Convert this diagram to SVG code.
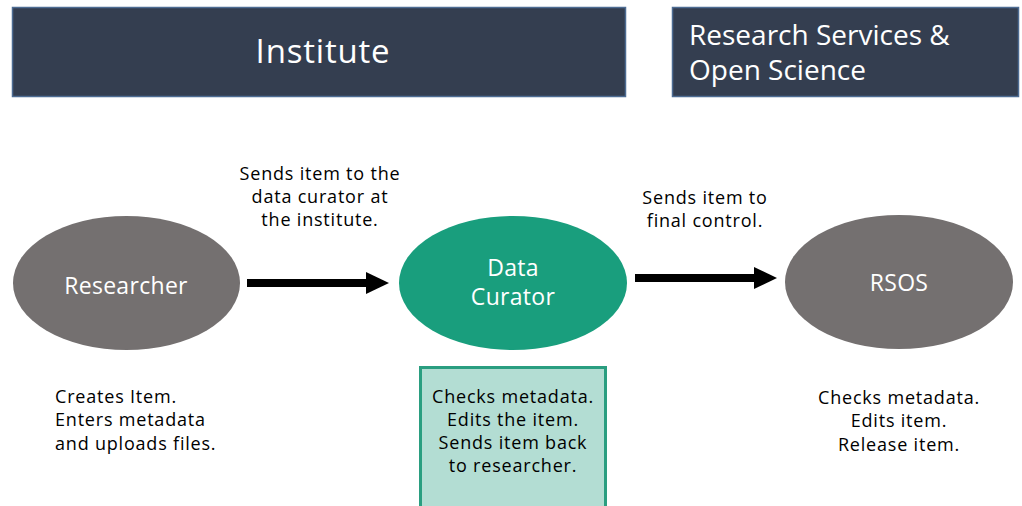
<svg xmlns="http://www.w3.org/2000/svg" width="1022" height="506" viewBox="0 0 1022 506">
  <style>
    text { font-family: "Open Sans", "Noto Sans", "DejaVu Sans", sans-serif; }
    .hdr { fill: #343e50; stroke: #4d6c93; stroke-width: 1.5; }
    .hdr-t { fill: #ffffff; }
    .node-grey { fill: #747070; }
    .node-green { fill: #199e7d; }
    .node-t { fill: #ffffff; font-size: 23px; text-anchor: middle; letter-spacing: 0.3px; }
    .lbl { fill: #000000; font-size: 18px; text-anchor: middle; letter-spacing: 0.8px; }
    .note { fill: #000000; font-size: 18px; letter-spacing: 0.8px; }
    .conn { stroke: #000000; stroke-width: 8; fill: none; }
    .head { fill: #000000; }
  </style>

  <!-- header bands -->
  <g id="institute">
    <rect class="hdr" x="12.5" y="7.5" width="613" height="89"/>
    <text class="hdr-t" x="323" y="63" font-size="33" letter-spacing="0.8" text-anchor="middle">Institute</text>
  </g>
  <g id="rsos-header">
    <rect class="hdr" x="672.5" y="7.5" width="346" height="89"/>
    <text class="hdr-t" x="689" y="45" font-size="28">Research Services &amp;</text>
    <text class="hdr-t" x="689" y="80" font-size="28">Open Science</text>
  </g>

  <!-- actors -->
  <g id="researcher">
    <ellipse class="node-grey" cx="126.5" cy="283" rx="113.5" ry="67"/>
    <text class="node-t" x="126" y="294">Researcher</text>
  </g>
  <g id="data-curator">
    <ellipse class="node-green" cx="513" cy="283" rx="114" ry="67"/>
    <text class="node-t" x="513" y="276">Data</text>
    <text class="node-t" x="513" y="305">Curator</text>
  </g>
  <g id="rsos">
    <ellipse class="node-grey" cx="899" cy="282" rx="114" ry="67"/>
    <text class="node-t" x="899" y="291">RSOS</text>
  </g>

  <!-- connectors -->
  <g id="connectors">
    <line class="conn" x1="247" y1="283" x2="368" y2="283"/>
    <polygon class="head" points="366,272 389,283 366,294"/>
    <line class="conn" x1="635" y1="278" x2="756" y2="278"/>
    <polygon class="head" points="754,267 777,278 754,289"/>
  </g>

  <!-- connector labels -->
  <g id="edge-labels">
    <text class="lbl" x="320" y="180">Sends item to the</text>
    <text class="lbl" x="320" y="203">data curator at</text>
    <text class="lbl" x="320" y="226">the institute.</text>
    <text class="lbl" x="705" y="204">Sends item to</text>
    <text class="lbl" x="705" y="227">final control.</text>
  </g>

  <!-- task notes -->
  <g id="researcher-tasks">
    <text class="note" x="55" y="403">Creates Item.</text>
    <text class="note" x="55" y="426">Enters metadata</text>
    <text class="note" x="55" y="450">and uploads files.</text>
  </g>
  <g id="curator-tasks">
    <rect x="420.5" y="367.5" width="185" height="145" fill="#b3ddd3" stroke="#2a9e80" stroke-width="3"/>
    <text class="lbl" x="513" y="403">Checks metadata.</text>
    <text class="lbl" x="513" y="426">Edits the item.</text>
    <text class="lbl" x="513" y="449">Sends item back</text>
    <text class="lbl" x="513" y="472">to researcher.</text>
  </g>
  <g id="rsos-tasks">
    <text class="lbl" x="899" y="404">Checks metadata.</text>
    <text class="lbl" x="899" y="427">Edits item.</text>
    <text class="lbl" x="899" y="451">Release item.</text>
  </g>
</svg>
